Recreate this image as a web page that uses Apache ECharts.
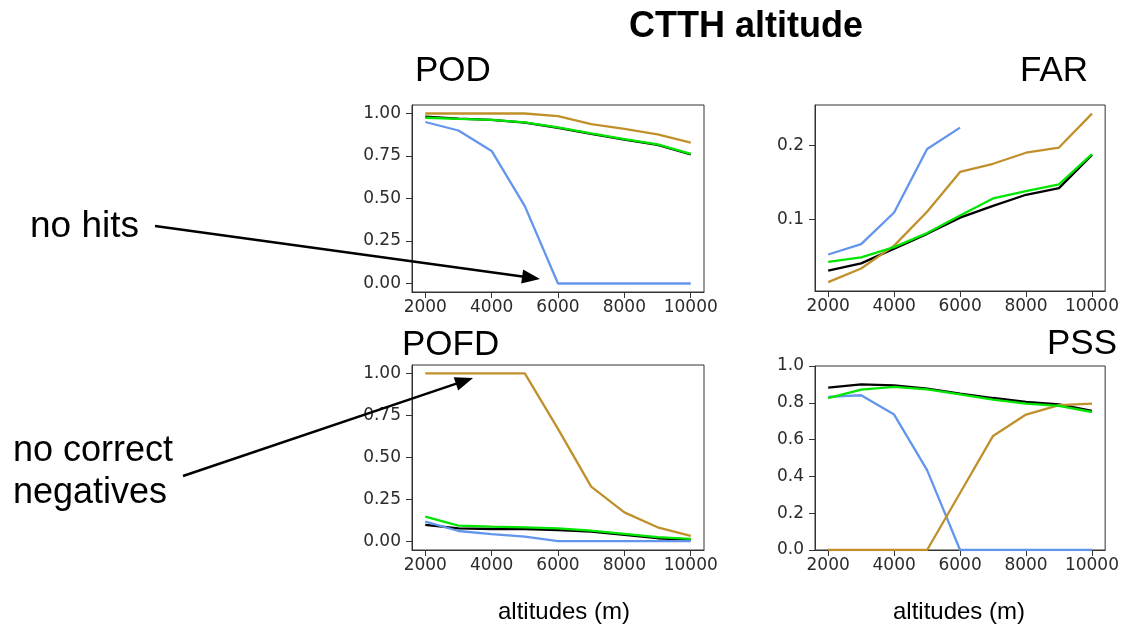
<!DOCTYPE html>
<html>
<head>
<meta charset="utf-8">
<script src="https://cdn.jsdelivr.net/npm/echarts@6/dist/echarts.min.js"></script>
<style>html,body{margin:0;padding:0;background:#fff}#c{width:1122px;height:627px}</style>
</head>
<body>
<div id="c"></div>
<script>
// ---- data ----
const altitudes = [2000, 3000, 4000, 5000, 6000, 7000, 8000, 9000, 10000];
const xTickValues = [2000, 4000, 6000, 8000, 10000];

const podBlack = [0.982, 0.970, 0.962, 0.946, 0.915, 0.880, 0.846, 0.816, 0.760];
const podBlue  = [0.950, 0.900, 0.780, 0.455, 0.000, 0.000, 0.000, 0.000, 0.000];
const podGold  = [1.000, 1.000, 1.000, 1.000, 0.984, 0.938, 0.909, 0.877, 0.829];
const podGreen = [0.975, 0.968, 0.962, 0.948, 0.918, 0.883, 0.849, 0.819, 0.763];
const podTicks = [0, 0.25, 0.5, 0.75, 1.0];

const farBlack = [0.030, 0.040, 0.060, 0.080, 0.102, 0.118, 0.133, 0.142, 0.187];
const farBlue  = [0.052, 0.066, 0.109, 0.195, 0.224, null, null, null, null];
const farGold  = [0.0145, 0.033, 0.064, 0.110, 0.164, 0.175, 0.190, 0.197, 0.243];
const farGreen = [0.042, 0.048, 0.062, 0.081, 0.105, 0.128, 0.138, 0.147, 0.188];
const farTicks = [0.1, 0.2];

const pofdBlack = [0.099, 0.079, 0.075, 0.075, 0.069, 0.059, 0.040, 0.020, 0.010];
const pofdBlue  = [0.119, 0.063, 0.044, 0.030, 0.003, 0.003, 0.003, 0.003, 0.003];
const pofdGold  = [1.000, 1.000, 1.000, 1.000, 0.670, 0.327, 0.174, 0.085, 0.034];
const pofdGreen = [0.149, 0.095, 0.089, 0.085, 0.079, 0.065, 0.046, 0.026, 0.016];
const pofdTicks = [0, 0.25, 0.5, 0.75, 1.0];

const pssBlack = [0.882, 0.900, 0.895, 0.877, 0.850, 0.826, 0.805, 0.792, 0.756];
const pssBlue  = [0.832, 0.841, 0.736, 0.434, 0.000, 0.000, 0.000, 0.000, 0.000];
const pssGold  = [0.000, 0.000, 0.000, 0.000, 0.310, 0.620, 0.736, 0.787, 0.796];
const pssGreen = [0.826, 0.872, 0.886, 0.873, 0.846, 0.817, 0.796, 0.783, 0.750];
const pssTicks = [0, 0.2, 0.4, 0.6, 0.8, 1.0];

const mainTitle = 'CTTH altitude';
const panelTitles = ['POD', 'FAR', 'POFD', 'PSS'];
const xAxisTitle = 'altitudes (m)';
const noteHits = 'no hits';
const noteNeg = ['no correct', 'negatives'];

// ---- styles ----
const COL = { black: '#000000', blue: '#6495ED', gold: '#C0902A', green: '#00E600' };
const LBL = { color: '#2b2b2b', fontFamily: 'DejaVu Sans', fontSize: 17 };
const TXT = 'Liberation Sans, Arial, sans-serif';

const grids = [
  { left: 412, top: 105, width: 292, height: 187 },
  { left: 815, top: 105, width: 293, height: 186 },
  { left: 412, top: 365, width: 292, height: 185 },
  { left: 815, top: 366, width: 293, height: 184 }
].map(g => Object.assign(g, { show: true, borderColor: '#333', borderWidth: 1, backgroundColor: 'transparent' }));

const yCfg = [
  { min: -0.05, max: 1.05, ticks: podTicks, dec: 2 },
  { min: 0.0025, max: 0.2547, ticks: farTicks, dec: 1 },
  { min: -0.05, max: 1.05, ticks: pofdTicks, dec: 2 },
  { min: 0, max: 1, ticks: pssTicks, dec: 1 }
];

const xAxes = grids.map((g, i) => ({
  type: 'value', gridIndex: i, min: 1600, max: 10400,
  splitLine: { show: false },
  axisLine: { show: true, onZero: false, lineStyle: { color: '#333', width: 1 } },
  axisTick: { show: true, inside: false, length: 6, lineStyle: { color: '#333' }, customValues: xTickValues },
  axisLabel: { show: true, margin: 7, customValues: xTickValues, formatter: v => String(v), ...LBL }
}));

const yAxes = yCfg.map((c, i) => ({
  type: 'value', gridIndex: i, min: c.min, max: c.max,
  splitLine: { show: false },
  axisLine: { show: true, onZero: false, lineStyle: { color: '#333', width: 1 } },
  axisTick: { show: true, inside: false, length: 6, lineStyle: { color: '#333' }, customValues: c.ticks },
  axisLabel: { show: true, margin: 11, customValues: c.ticks, formatter: v => v.toFixed(c.dec), ...LBL }
}));

const panels = [
  [podBlack, podBlue, podGold, podGreen],
  [farBlack, farBlue, farGold, farGreen],
  [pofdBlack, pofdBlue, pofdGold, pofdGreen],
  [pssBlack, pssBlue, pssGold, pssGreen]
];
const colors = [COL.black, COL.blue, COL.gold, COL.green];

const series = [];
panels.forEach((arrs, i) => {
  arrs.forEach((vals, k) => {
    series.push({
      type: 'line', xAxisIndex: i, yAxisIndex: i,
      data: altitudes.map((a, j) => [a, vals[j]]),
      showSymbol: false, connectNulls: false, silent: true,
      lineStyle: { color: colors[k], width: 2.3 },
      z: 2 + k
    });
  });
});

function arrow(x1, y1, x2, y2) {
  const dx = x2 - x1, dy = y2 - y1, L = Math.hypot(dx, dy);
  const ux = dx / L, uy = dy / L, nx = -uy, ny = ux;
  const hl = 18, hw = 7;
  const bx = x2 - hl * ux, by = y2 - hl * uy;
  return [
    { type: 'line', shape: { x1, y1, x2: bx + ux * 2, y2: by + uy * 2 }, style: { stroke: '#000', lineWidth: 2.5 }, z: 100 },
    { type: 'polygon', shape: { points: [[x2, y2], [bx + hw * nx, by + hw * ny], [bx - hw * nx, by - hw * ny]] }, style: { fill: '#000' }, z: 100 }
  ];
}

function txt(text, x, y, size, opts) {
  return { type: 'text', x, y, z: 100,
    style: Object.assign({ text, font: (opts && opts.bold ? 'bold ' : '') + size + 'px ' + TXT, fill: '#000',
      textAlign: (opts && opts.align) || 'left', textVerticalAlign: 'middle' }, opts && opts.style) };
}

const graphic = [
  txt(mainTitle, 746, 27, 36, { bold: true, align: 'center' }),
  txt(panelTitles[0], 415, 71, 35),
  txt(panelTitles[1], 1020, 71, 35),
  txt(panelTitles[2], 402, 345, 35),
  txt(panelTitles[3], 1047, 344, 35),
  txt(noteHits, 30, 227, 37),
  txt(noteNeg[0], 13, 451, 36),
  txt(noteNeg[1], 13, 493, 36),
  txt(xAxisTitle, 564, 612, 24, { align: 'center' }),
  txt(xAxisTitle, 959, 612, 24, { align: 'center' }),
  ...arrow(155, 226, 540, 279),
  ...arrow(183, 476, 473, 378)
];

const chart = echarts.init(document.getElementById('c'), null, { renderer: 'canvas' });
chart.setOption({
  animation: false,
  backgroundColor: '#fff',
  grid: grids, xAxis: xAxes, yAxis: yAxes, series, graphic
});
</script>
</body>
</html>
